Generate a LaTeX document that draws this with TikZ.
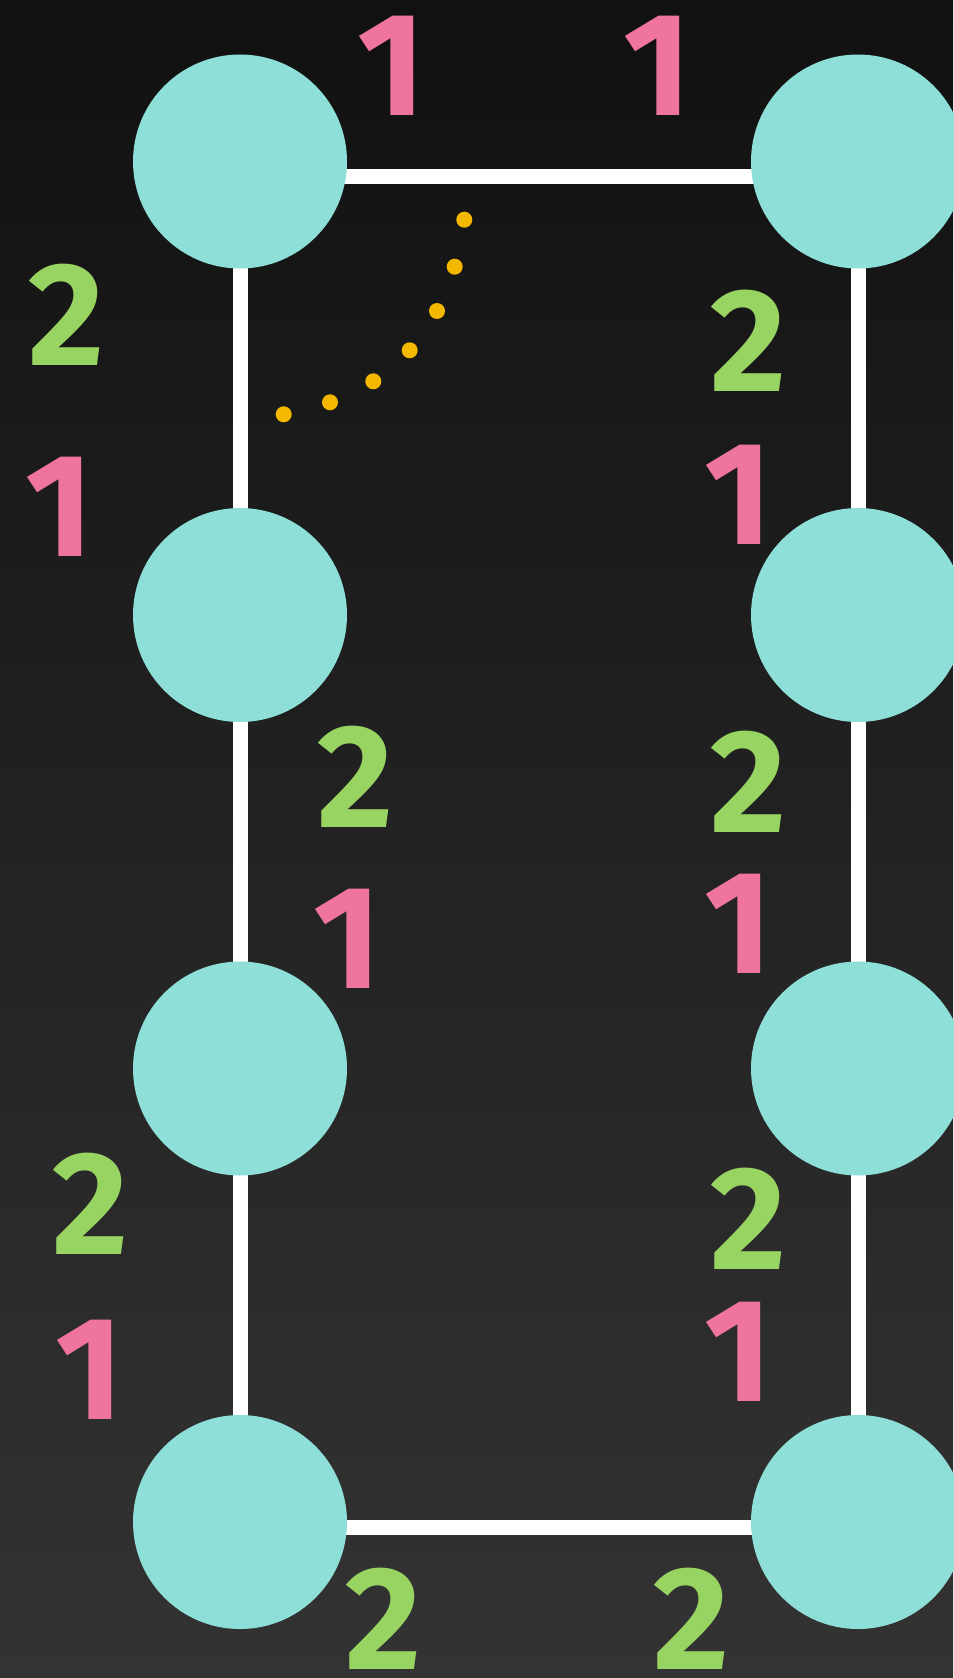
\documentclass[tikz,border=0pt]{standalone}
\usepackage{fontspec}
\setmainfont{Fira Sans}
\definecolor{bgtop}{HTML}{111111}
\definecolor{bgbot}{HTML}{333333}
\definecolor{teal}{HTML}{8DDFD8}
\definecolor{pinknum}{HTML}{EF75A0}
\definecolor{greennum}{HTML}{98D462}
\definecolor{dotc}{HTML}{F5B800}
\begin{document}
\begin{tikzpicture}[x=1pt,y=-1pt,
  vert/.style={circle,fill=teal,minimum size=214pt,inner sep=0pt,draw=none},
  edge/.style={draw=white,line width=15pt},
  numA/.style={text=pinknum,inner sep=0pt,font=\bfseries\fontsize{147}{147}\selectfont},
  numB/.style={text=greennum,inner sep=0pt,font=\bfseries\fontsize{147}{147}\selectfont},
  dot/.style={circle,fill=dotc,minimum size=16pt,inner sep=0pt}]
\useasboundingbox (0,0) rectangle (953,1678);
\shade[top color=bgtop,bottom color=bgbot] (0,0) rectangle (953,1678);
% vertex positions
\coordinate (p11) at (240,161.5);
\coordinate (p12) at (858,161.5);
\coordinate (p21) at (240,615);
\coordinate (p22) at (858,615);
\coordinate (p31) at (240,1068.5);
\coordinate (p32) at (858,1068.5);
\coordinate (p41) at (240,1522);
\coordinate (p42) at (858,1522);
% edges
\draw[edge] ([yshift=-15pt]p11) -- ([yshift=-15pt]p12);
\draw[edge] ([yshift=-5pt]p41) -- ([yshift=-5pt]p42);
\draw[edge] (p11) -- (p41);
\draw[edge] (p12) -- (p42);
% vertices
\node[vert] (v11) at (p11) {};
\node[vert] (v12) at (p12) {};
\node[vert] (v21) at (p21) {};
\node[vert] (v22) at (p22) {};
\node[vert] (v31) at (p31) {};
\node[vert] (v32) at (p32) {};
\node[vert] (v41) at (p41) {};
\node[vert] (v42) at (p42) {};
% labels 1
\node[numA] (a1) at (391.5,66) {1};
\node[numA] (a2) at (658,66) {1};
\node[numA] (a3) at (60,507) {1};
\node[numA] (a4) at (739,495) {1};
\node[numA] (a5) at (347.6,939) {1};
\node[numA] (a6) at (739,924) {1};
\node[numA] (a7) at (90,1370) {1};
\node[numA] (a8) at (739,1352) {1};
% labels 2
\node[numB] (b1) at (66.5,314.5) {2};
\node[numB] (b2) at (748,341) {2};
\node[numB] (b3) at (355,777) {2};
\node[numB] (b4) at (748,782) {2};
\node[numB] (b5) at (90,1204) {2};
\node[numB] (b6) at (748,1218.5) {2};
\node[numB] (b7) at (383,1618.5) {2};
\node[numB] (b8) at (691,1618.5) {2};
% dots
\node[dot] (d1) at (464.3,219.7) {};
\node[dot] (d2) at (454.7,266.7) {};
\node[dot] (d3) at (437,311) {};
\node[dot] (d4) at (409.7,350.3) {};
\node[dot] (d5) at (373.3,381.3) {};
\node[dot] (d6) at (330,402.3) {};
\node[dot] (d7) at (283.7,414.3) {};
\end{tikzpicture}
\end{document}
